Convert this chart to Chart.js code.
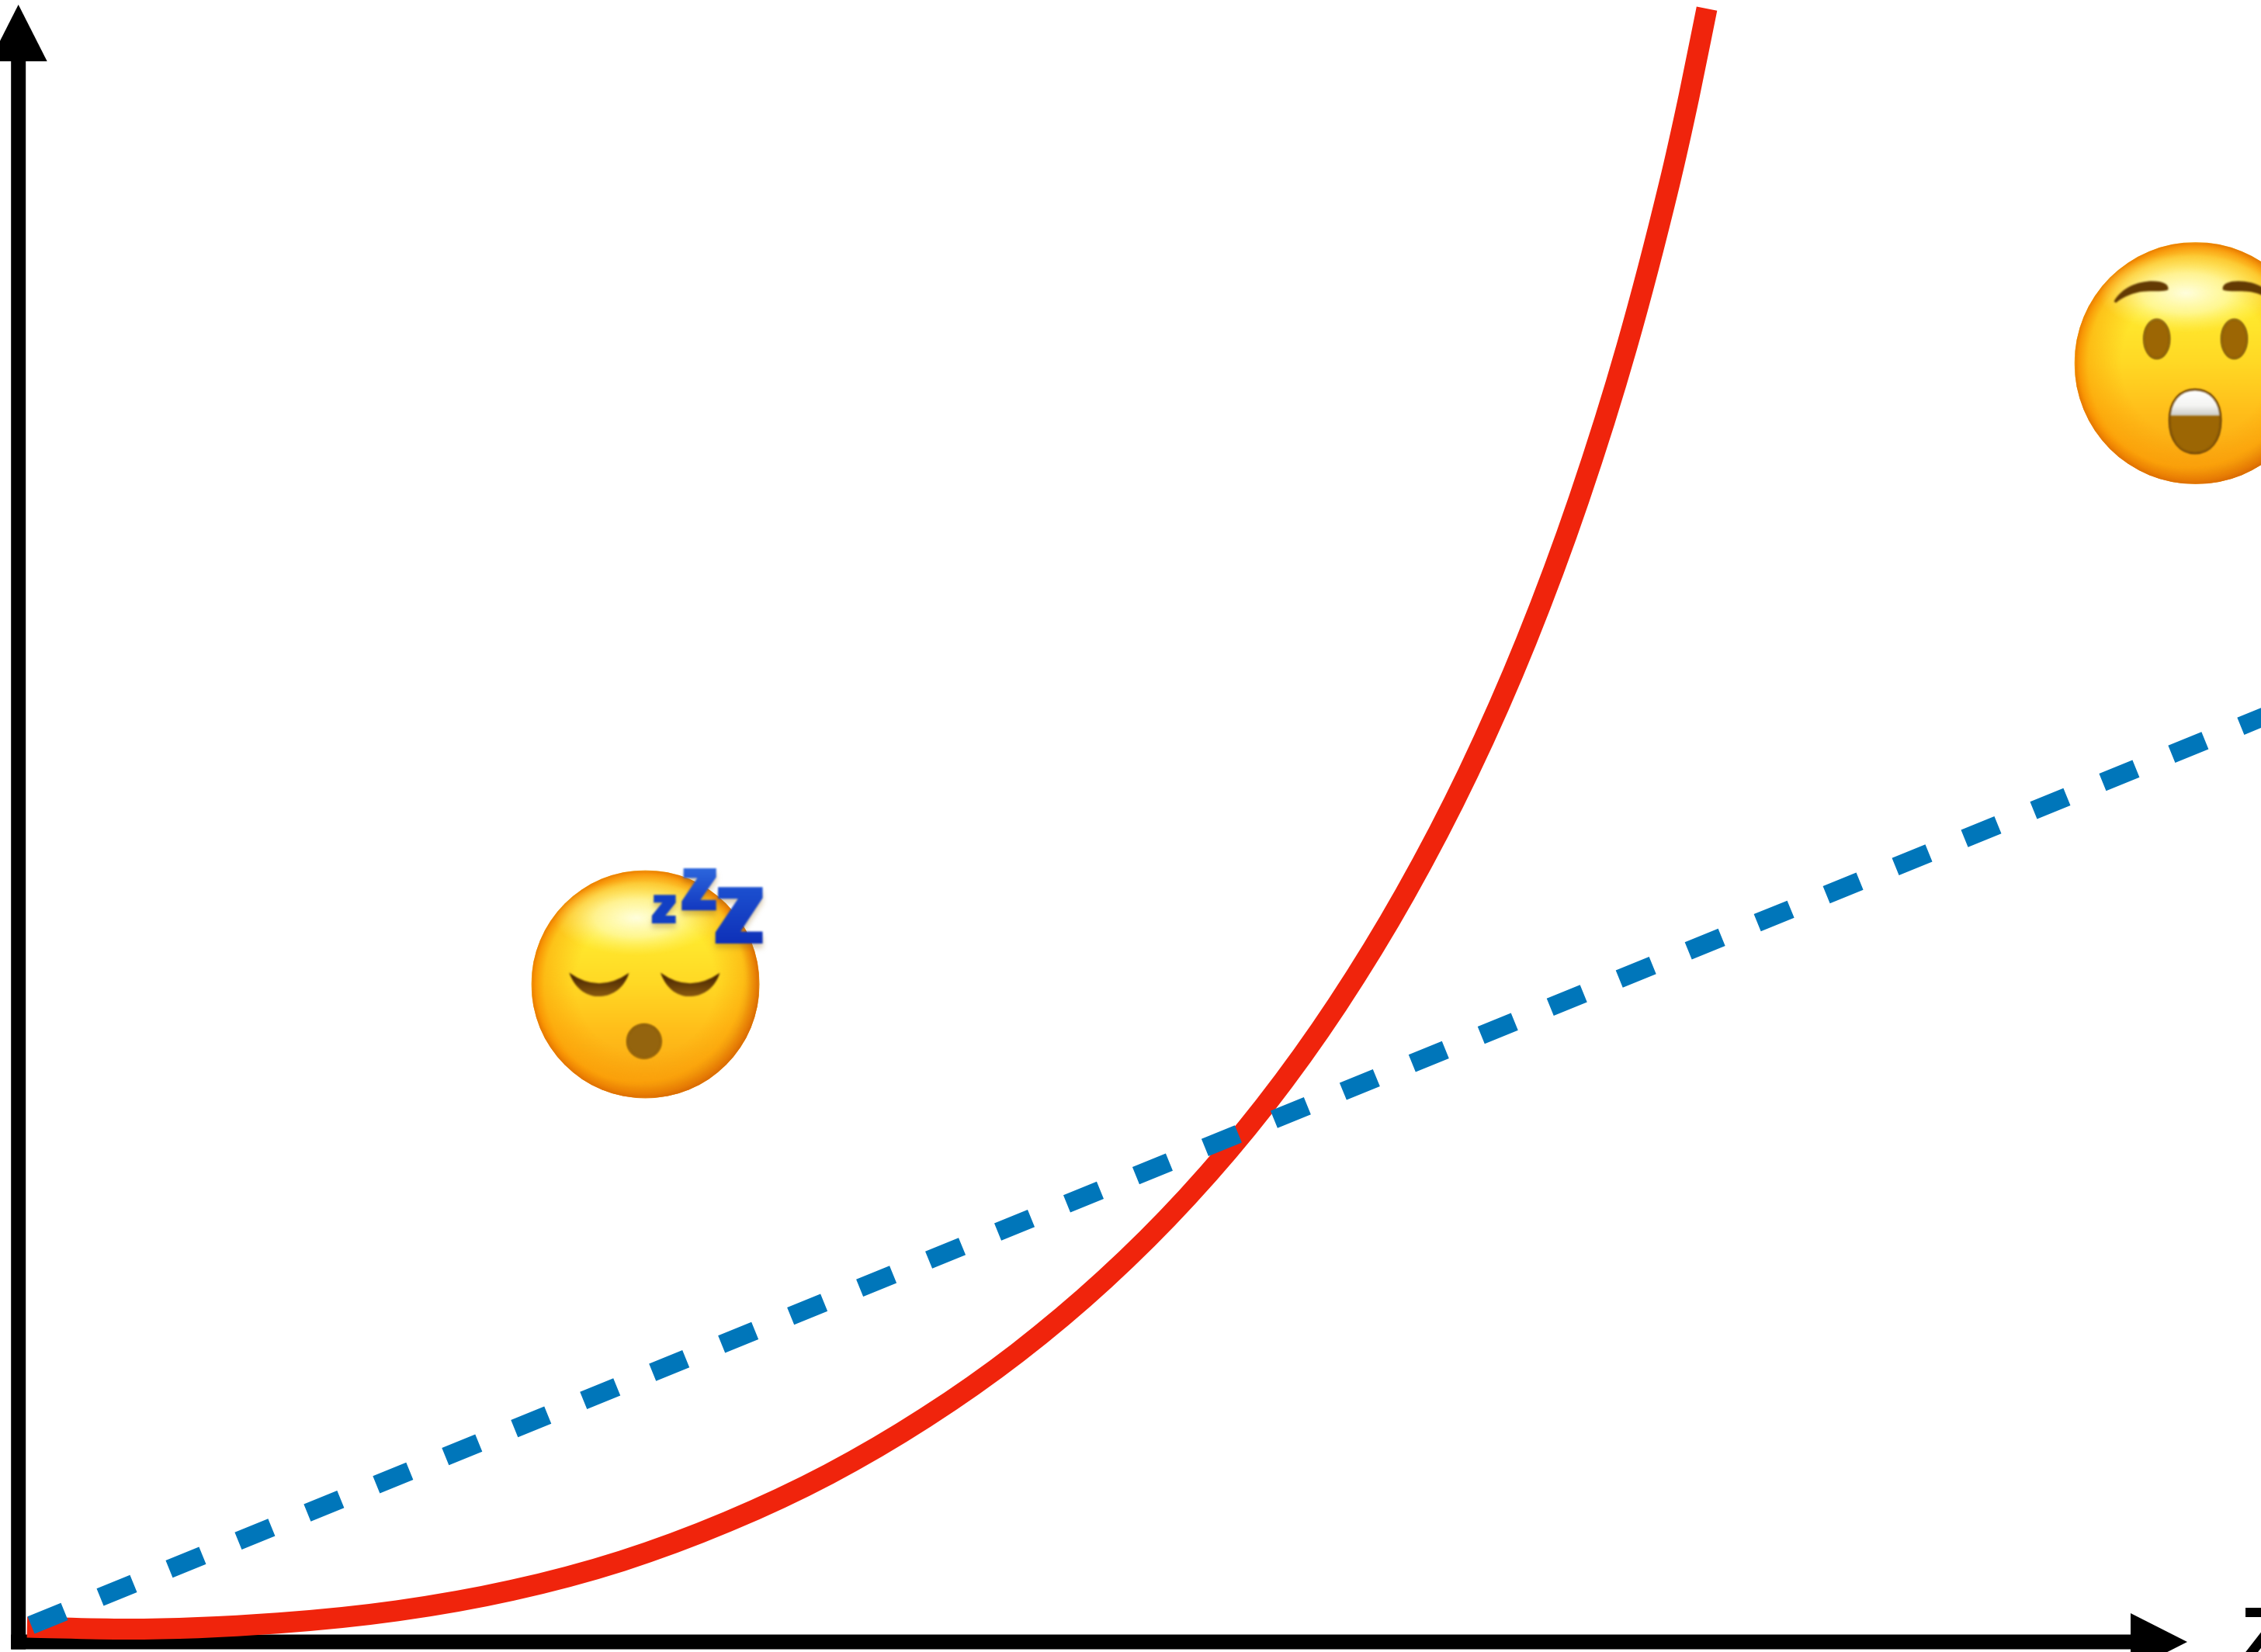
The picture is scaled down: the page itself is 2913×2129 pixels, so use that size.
<!DOCTYPE html>
<html>
<head>
<meta charset="utf-8">
<title>Chart</title>
<script src="https://cdn.jsdelivr.net/npm/chart.js@4/dist/chart.umd.js"></script>
<style>html,body{margin:0;padding:0;background:#fff;overflow:hidden}canvas{display:block}</style>
</head>
<body>
<canvas id="c" width="2913" height="2129"></canvas>
<script>
// Series values, in axis units (both axes run 0..100 up to their arrow tips)
const curveX = [0.40, 5.00, 11.98, 17.47, 22.75, 27.83, 32.71, 37.37, 41.82, 46.06, 50.08, 53.88, 57.46, 60.81, 63.94, 66.85, 69.52, 71.95, 74.16, 76.13, 77.02, 77.85];
const curveY = [0.90, 0.78, 1.15, 1.90, 3.15, 4.95, 7.35, 10.25, 13.70, 17.65, 22.13, 27.15, 32.73, 38.91, 45.69, 53.09, 61.12, 69.78, 79.11, 89.10, 94.35, 99.76];
const lineX = [0.585, 104.7];
const lineY = [1.02, 57.14];
const axisLabel = 'Z';
const axisEnd = [100, 100];
const sleepAt = [28.91, 40.17];
const awakeAt = [100.38, 78.10];

const RED = '#F0240C', BLUE = '#0076BA', BLACK = '#000';
const xMin = -0.848, xMax = 103.40, yMin = -0.616, yMax = 100.284;

function toXY(xs, ys) { return xs.map((x, i) => ({ x, y: ys[i] })); }

function poly(ctx, pts) {
  ctx.beginPath();
  pts.forEach((p, i) => i ? ctx.lineTo(p[0], p[1]) : ctx.moveTo(p[0], p[1]));
  ctx.closePath();
}

// Face is drawn in a local system where the face has radius 1
function face(ctx, cx, cy, r) {
  ctx.save();
  ctx.translate(cx, cy);
  ctx.scale(r, r);
  ctx.beginPath();
  ctx.arc(0, 0, 1, 0, Math.PI * 2);
  ctx.save();
  ctx.clip();
  let g = ctx.createLinearGradient(0, -1, 0, 1);
  g.addColorStop(0, '#ffef60');
  g.addColorStop(0.3, '#ffe92e');
  g.addColorStop(0.5, '#ffd824');
  g.addColorStop(0.7, '#ffbe1a');
  g.addColorStop(1, '#f9a010');
  ctx.fillStyle = g;
  ctx.fillRect(-1, -1, 2, 2);
  // orange rim
  g = ctx.createRadialGradient(0, 0, 0.62, 0, 0, 1);
  g.addColorStop(0, 'rgba(250,150,0,0)');
  g.addColorStop(0.7, 'rgba(250,150,0,0.45)');
  g.addColorStop(0.9, 'rgba(248,140,0,0.85)');
  g.addColorStop(1, 'rgba(235,125,0,1)');
  ctx.fillStyle = g;
  ctx.fillRect(-1, -1, 2, 2);
  // darker lower-right rim
  g = ctx.createRadialGradient(-0.06, -0.06, 0.92, -0.06, -0.06, 1.07);
  g.addColorStop(0, 'rgba(190,80,10,0)');
  g.addColorStop(1, 'rgba(190,80,10,0.4)');
  ctx.fillStyle = g;
  ctx.fillRect(-1, -1, 2, 2);
  // soft pale highlight near the top, fading out before the rim
  ctx.save();
  ctx.translate(-0.08, -0.58);
  ctx.scale(0.72, 0.33);
  g = ctx.createRadialGradient(0, 0, 0, 0, 0, 1);
  g.addColorStop(0, 'rgba(255,255,235,0.92)');
  g.addColorStop(0.5, 'rgba(255,252,180,0.72)');
  g.addColorStop(1, 'rgba(255,245,110,0)');
  ctx.fillStyle = g;
  ctx.fillRect(-1, -1, 2, 2);
  ctx.restore();
  ctx.restore();
  ctx.restore();
}

function drawSleep(ctx, cx, cy, r) {
  face(ctx, cx, cy, r);
  ctx.save();
  ctx.translate(cx, cy);
  const s = r / 440;
  ctx.scale(s, s);
  ctx.translate(-575, -565);
  const eye = (x0, xm, x1) => {
    ctx.beginPath();
    ctx.moveTo(x0, 520);
    ctx.bezierCurveTo(x0 + 25, 590, xm - 40, 612, xm, 612);
    ctx.bezierCurveTo(xm + 40, 612, x1 - 22, 590, x1, 521);
    ctx.quadraticCurveTo(xm, 602, x0, 520);
    ctx.closePath();
    const g = ctx.createLinearGradient(0, 540, 0, 612);
    g.addColorStop(0, '#4f2a02');
    g.addColorStop(1, '#8a5a0e');
    ctx.fillStyle = g;
    ctx.fill();
  };
  eye(281, 396, 512);
  eye(633, 746, 862);
  ctx.beginPath();
  ctx.arc(570, 785, 66, 0, Math.PI * 2);
  ctx.fillStyle = '#94640e';
  ctx.fill();
  ctx.lineWidth = 5;
  ctx.strokeStyle = 'rgba(107,66,4,0.8)';
  ctx.stroke();
  // the three z marks
  ctx.shadowColor = 'rgba(150,110,30,0.35)';
  ctx.shadowBlur = 6;
  ctx.shadowOffsetY = 6;
  poly(ctx, [[607,220],[692,220],[692,250],[652,300],[692,300],[692,330],[600,330],[600,300],[640,250],[607,250]]);
  ctx.fillStyle = '#1240c4';
  ctx.fill();
  poly(ctx, [[722,118],[848,118],[848,152],[787,240],[848,240],[848,280],[715,280],[715,245],[775,155],[722,155]]);
  let g = ctx.createLinearGradient(0, 118, 0, 280);
  g.addColorStop(0, '#2c66dc');
  g.addColorStop(1, '#1238c0');
  ctx.fillStyle = g;
  ctx.fill();
  poly(ctx, [[855,190],[1027,190],[1027,232],[942,362],[1027,362],[1027,408],[845,408],[845,365],[932,235],[855,235]]);
  g = ctx.createLinearGradient(0, 190, 0, 408);
  g.addColorStop(0, '#1c50d0');
  g.addColorStop(1, '#0e30b8');
  ctx.fillStyle = g;
  ctx.fill();
  ctx.restore();
}

function drawAwake(ctx, cx, cy, r) {
  face(ctx, cx, cy, r);
  ctx.save();
  ctx.translate(cx, cy);
  const s = r / 469;
  ctx.scale(s, s);
  ctx.translate(-566, -564);
  const brown = '#6b4206', fill = '#9c6604';
  // eyebrows
  const brow = (m) => {
    const X = (x) => m ? 1132 - x : x;
    ctx.beginPath();
    ctx.moveTo(X(250), 325);
    ctx.bezierCurveTo(X(280), 272, X(340), 246, X(400), 246);
    ctx.bezierCurveTo(X(440), 246, X(465), 258, X(460), 280);
    ctx.bezierCurveTo(X(440), 290, X(400), 280, X(350), 288);
    ctx.bezierCurveTo(X(310), 296, X(275), 315, X(258), 330);
    ctx.closePath();
    ctx.fillStyle = '#633a03';
    ctx.fill();
  };
  brow(false);
  brow(true);
  // eyes
  [416, 716].forEach((x) => {
    ctx.beginPath();
    ctx.ellipse(x, 470, 50, 76, 0, 0, Math.PI * 2);
    ctx.fillStyle = fill;
    ctx.fill();
    ctx.lineWidth = 5;
    ctx.strokeStyle = brown;
    ctx.stroke();
  });
  // mouth
  const mouth = () => {
    ctx.beginPath();
    ctx.moveTo(465, 785);
    ctx.bezierCurveTo(465, 710, 505, 666, 564, 666);
    ctx.bezierCurveTo(623, 666, 664, 710, 664, 785);
    ctx.bezierCurveTo(664, 865, 622, 913, 564, 913);
    ctx.bezierCurveTo(506, 913, 465, 865, 465, 785);
    ctx.closePath();
  };
  mouth();
  ctx.fillStyle = fill;
  ctx.fill();
  ctx.save();
  mouth();
  ctx.clip();
  let g = ctx.createLinearGradient(0, 670, 0, 768);
  g.addColorStop(0, '#ffffff');
  g.addColorStop(0.6, '#f4f4f2');
  g.addColorStop(1, '#c9c9c4');
  ctx.fillStyle = g;
  ctx.fillRect(450, 660, 230, 107);
  ctx.restore();
  mouth();
  ctx.lineWidth = 7;
  ctx.strokeStyle = brown;
  ctx.stroke();
  ctx.restore();
}

const axesPlugin = {
  id: 'axesPlugin',
  beforeDatasetsDraw(chart) {
    const { ctx, scales: { x, y } } = chart;
    const x0 = x.getPixelForValue(0), y0 = y.getPixelForValue(0);
    const xt = x.getPixelForValue(axisEnd[0]), yt = y.getPixelForValue(axisEnd[1]);
    const w = 19, len = 73, half = 37;
    ctx.save();
    ctx.fillStyle = BLACK;
    ctx.fillRect(x0 - w / 2, yt + len - 1, w, y0 - yt - len + 1 + w / 2);
    ctx.fillRect(x0 - w / 2, y0 - w / 2, xt - x0 - len + 1 + w / 2, w);
    poly(ctx, [[x0, yt], [x0 + half, yt + len], [x0 - half, yt + len]]);
    ctx.fill();
    poly(ctx, [[xt, y0], [xt - len, y0 - half], [xt - len, y0 + half]]);
    ctx.fill();
    ctx.restore();
  },
  afterDatasetsDraw(chart) {
    const { ctx, scales: { x, y } } = chart;
    ctx.save();
    ctx.filter = 'blur(1px)';
    drawSleep(ctx, x.getPixelForValue(sleepAt[0]), y.getPixelForValue(sleepAt[1]), 147);
    drawAwake(ctx, x.getPixelForValue(awakeAt[0]), y.getPixelForValue(awakeAt[1]), 156);
    ctx.restore();
    ctx.save();
    ctx.fillStyle = BLACK;
    ctx.font = 'bold 105px "Liberation Sans"';
    ctx.textAlign = 'left';
    ctx.textBaseline = 'alphabetic';
    ctx.fillText(axisLabel, x.getPixelForValue(axisEnd[0]) + 68, y.getPixelForValue(0) + 29);
    ctx.restore();
  }
};

new Chart(document.getElementById('c'), {
  type: 'scatter',
  data: {
    datasets: [
      {
        data: toXY(curveX, curveY),
        showLine: true,
        borderColor: RED,
        borderWidth: 27,
        borderCapStyle: 'butt',
        pointRadius: 0,
        cubicInterpolationMode: 'monotone',
        order: 2
      },
      {
        data: toXY(lineX, lineY),
        showLine: true,
        borderColor: BLUE,
        borderWidth: 24,
        borderCapStyle: 'butt',
        borderDash: [46.4, 49.65],
        pointRadius: 0,
        order: 1
      }
    ]
  },
  plugins: [axesPlugin],
  options: {
    responsive: false,
    animation: false,
    devicePixelRatio: 1,
    layout: { padding: 0 },
    plugins: { legend: { display: false }, tooltip: { enabled: false }, title: { display: false } },
    scales: {
      x: { type: 'linear', min: xMin, max: xMax, display: false },
      y: { type: 'linear', min: yMin, max: yMax, display: false }
    }
  }
});
</script>
</body>
</html>
